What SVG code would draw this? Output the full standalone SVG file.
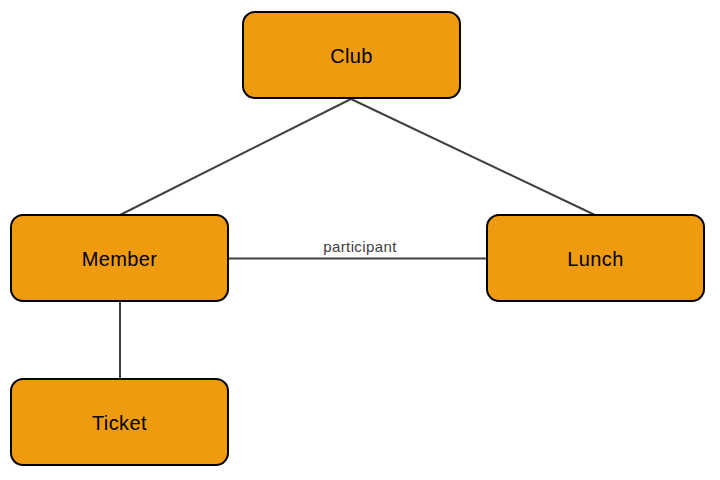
<svg xmlns="http://www.w3.org/2000/svg" width="720" height="480" viewBox="0 0 720 480">
<style>
.node rect{fill:#EF9B0F;stroke:#000;stroke-width:2}
.node text{font-family:"Liberation Sans",Arial,sans-serif;font-size:20px;fill:#000;text-anchor:middle;letter-spacing:0.4px}
.edges line{stroke:#404040;stroke-width:2}
.edges text{font-family:"Liberation Sans",Arial,sans-serif;font-size:15px;fill:#404040;text-anchor:middle;letter-spacing:0.4px}
</style>
<rect width="720" height="480" fill="#fff"/>
<g class="edges">
<line x1="351" y1="99" x2="120" y2="215"/>
<line x1="351" y1="99" x2="595" y2="215"/>
<line x1="228" y1="258.5" x2="487" y2="258.5"/>
<line x1="120" y1="301" x2="120" y2="379"/>
<text x="360" y="252">participant</text>
</g>
<g id="club" class="node"><rect x="243" y="12" width="217" height="86" rx="12"/><text x="351.5" y="62.5">Club</text></g>
<g id="member" class="node"><rect x="11" y="215" width="217" height="86" rx="12"/><text x="119.5" y="265.5">Member</text></g>
<g id="lunch" class="node"><rect x="487" y="215" width="217" height="86" rx="12"/><text x="595.5" y="265.5">Lunch</text></g>
<g id="ticket" class="node"><rect x="11" y="379" width="217" height="86" rx="12"/><text x="119.5" y="429.5">Ticket</text></g>
</svg>
